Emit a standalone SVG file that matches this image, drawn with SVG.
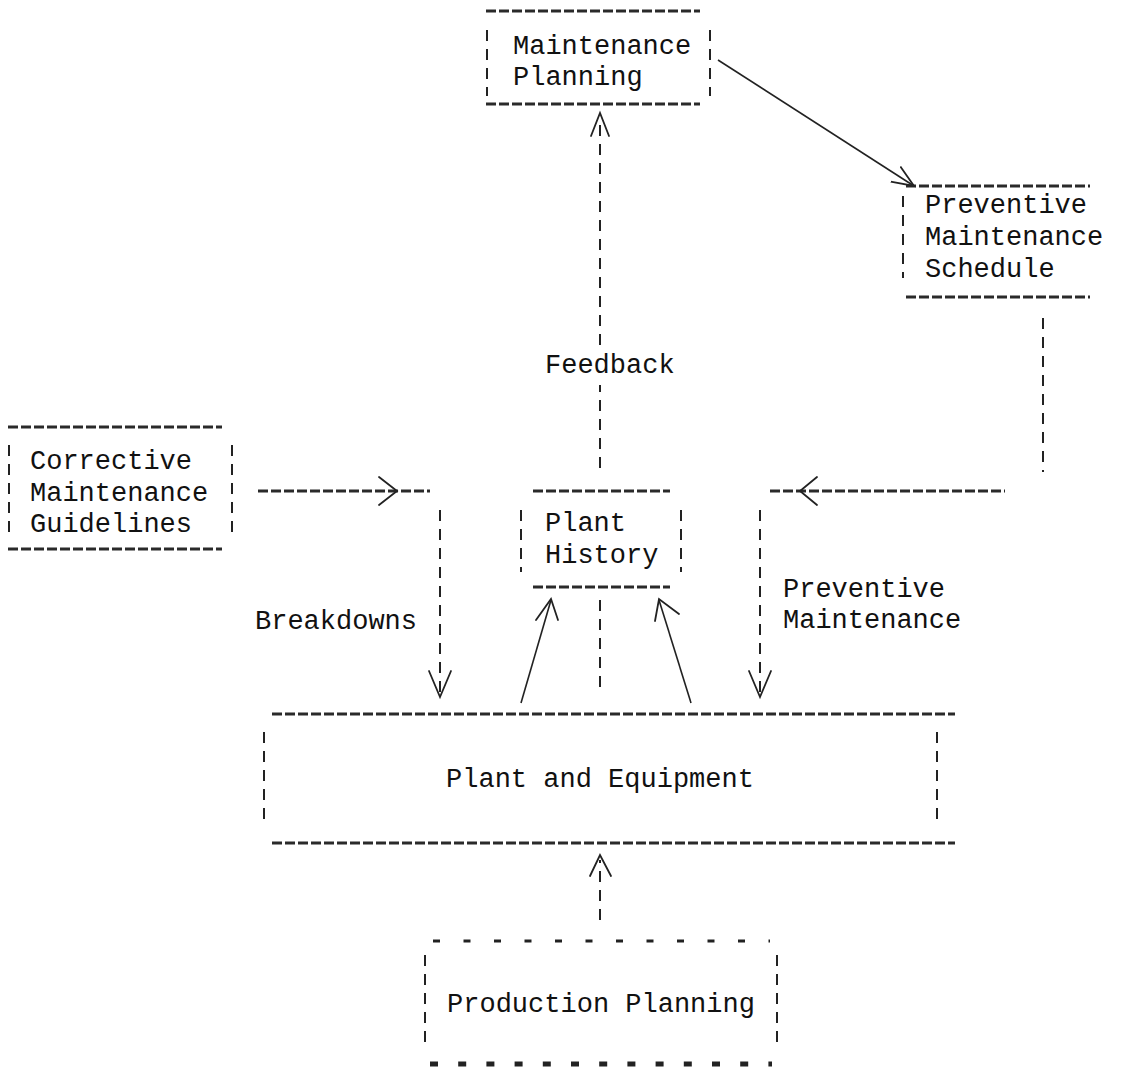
<svg xmlns="http://www.w3.org/2000/svg" width="1121" height="1068" viewBox="0 0 1121 1068">
<style>
text{font-family:"Liberation Mono","DejaVu Sans Mono",monospace;font-size:27px;fill:#111}
.h{stroke:#2a2a2a;stroke-width:3;stroke-dasharray:10 3;fill:none}
.v{stroke:#222;stroke-width:2;stroke-dasharray:11 8;fill:none}
.c{stroke:#222;stroke-width:2;stroke-dasharray:11 8;fill:none}
.s{stroke:#222;stroke-width:1.6;fill:none}
.a{stroke:#222;stroke-width:1.8;fill:none;stroke-linecap:round}
</style>
<defs>
<marker id="arr" markerWidth="30" markerHeight="30" refX="22" refY="12" orient="auto" markerUnits="userSpaceOnUse">
<path d="M0,3 L22,12 L0,21" fill="none" stroke="#222" stroke-width="1.8"/>
</marker>
</defs>
<rect width="1121" height="1068" fill="#fff"/>

<g id="maintenance-planning">
<line class="h" x1="486" y1="11" x2="700" y2="11"/>
<line class="h" x1="486" y1="104" x2="700" y2="104"/>
<line class="v" x1="487" y1="30" x2="487" y2="96"/>
<line class="v" x1="710" y1="30" x2="710" y2="96"/>
<text x="513" y="54">Maintenance</text>
<text x="513" y="85">Planning</text>
</g>

<g id="preventive-maintenance-schedule">
<line class="h" x1="906" y1="186" x2="1090" y2="186"/>
<line class="h" x1="906" y1="297" x2="1090" y2="297"/>
<line class="v" x1="903" y1="196" x2="903" y2="278"/>
<text x="925" y="213">Preventive</text>
<text x="925" y="245">Maintenance</text>
<text x="925" y="277">Schedule</text>
</g>

<g id="corrective-maintenance-guidelines">
<line class="h" x1="8" y1="427" x2="222" y2="427"/>
<line class="h" x1="8" y1="549" x2="222" y2="549"/>
<line class="v" x1="9" y1="445" x2="9" y2="532"/>
<line class="v" x1="232" y1="445" x2="232" y2="532"/>
<text x="30" y="469">Corrective</text>
<text x="30" y="501">Maintenance</text>
<text x="30" y="532">Guidelines</text>
</g>

<g id="plant-history">
<line class="h" x1="533" y1="491" x2="670" y2="491"/>
<line class="h" x1="533" y1="587" x2="670" y2="587"/>
<line class="v" x1="521" y1="510" x2="521" y2="572"/>
<line class="v" x1="681" y1="510" x2="681" y2="572"/>
<text x="545" y="531">Plant</text>
<text x="545" y="563">History</text>
</g>

<g id="plant-and-equipment">
<line class="h" x1="272" y1="714" x2="955" y2="714"/>
<line class="h" x1="272" y1="843" x2="955" y2="843"/>
<line class="v" x1="264" y1="732" x2="264" y2="822"/>
<line class="v" x1="937" y1="732" x2="937" y2="822"/>
<text x="600" y="787" text-anchor="middle">Plant and Equipment</text>
</g>

<g id="production-planning">
<line stroke="#222" stroke-width="3" stroke-dasharray="7 23.5" x1="433" y1="941" x2="770" y2="941"/>
<line stroke="#222" stroke-width="5" stroke-dasharray="8 20.2" x1="430" y1="1064" x2="772" y2="1064"/>
<line class="v" x1="425" y1="955" x2="425" y2="1046"/>
<line class="v" x1="777" y1="955" x2="777" y2="1046"/>
<text x="601" y="1012" text-anchor="middle">Production Planning</text>
</g>

<g id="connectors">
<line class="s" x1="718" y1="60" x2="914" y2="186" marker-end="url(#arr)"/>
<line class="c" x1="600" y1="468" x2="600" y2="385"/>
<line class="c" x1="600" y1="345" x2="600" y2="118"/>
<path class="a" d="M591,136 L600,113 L609,136"/>
<text x="545" y="373">Feedback</text>
<line class="c" x1="1043" y1="318" x2="1043" y2="472"/>
<line class="h" x1="770" y1="491" x2="1005" y2="491"/>
<path class="a" d="M817,477 L800,491 L817,505"/>
<line class="c" x1="760" y1="510" x2="760" y2="695"/>
<path class="a" d="M749,671 L760,697 L771,671"/>
<text x="783" y="597">Preventive</text>
<text x="783" y="628">Maintenance</text>
<line class="h" x1="258" y1="491" x2="430" y2="491"/>
<path class="a" d="M379,477 L397,491 L379,505"/>
<line class="c" x1="440" y1="510" x2="440" y2="695"/>
<path class="a" d="M429,671 L440,697 L451,671"/>
<text x="255" y="629">Breakdowns</text>
<line class="s" x1="521" y1="703" x2="551" y2="600"/>
<path class="a" d="M536,620 L551,599 L558,620"/>
<line class="s" x1="691" y1="703" x2="659" y2="600"/>
<path class="a" d="M655,621 L659,599 L679,614"/>
<line class="c" x1="600" y1="600" x2="600" y2="695"/>
<line class="c" x1="600" y1="920" x2="600" y2="860"/>
<path class="a" d="M590,876 L600,855 L611,876"/>
</g>
</svg>
